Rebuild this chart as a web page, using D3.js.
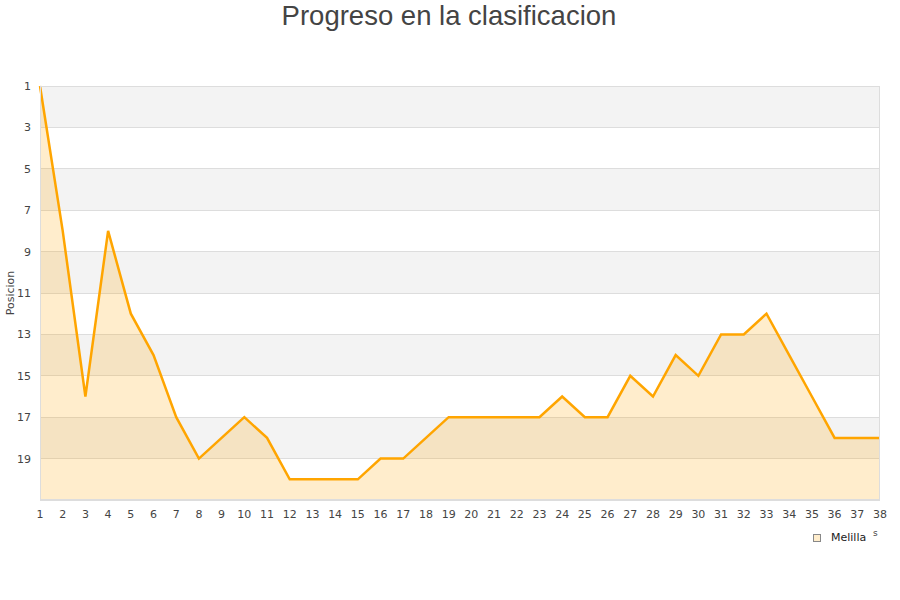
<!DOCTYPE html>
<html><head><meta charset="utf-8">
<script src="https://cdn.jsdelivr.net/npm/d3@7"></script>
<style>body{margin:0;background:#fff}svg{display:block}</style>
</head><body>
<div id="chart"></div>
<script>
const title = "Progreso en la clasificacion";
const yTitle = "Posicion";
const seriesName = "Melilla";
const jornadas = d3.range(1, 39);
const posiciones = [1,8,16,8,12,14,17,19,18,17,18,20,20,20,20,19,19,18,17,17,17,17,17,16,17,17,15,16,14,15,13,13,12,14,16,18,18,18];
const yTicks = [1,3,5,7,9,11,13,15,17,19];

const W = 900, H = 600;
const m = {left:40, right:20, top:86, bottom:100};
const svg = d3.select("#chart").append("svg").attr("width", W).attr("height", H);
const x = d3.scaleLinear().domain([1,38]).range([m.left, W - m.right]);
const y = d3.scaleLinear().domain([1,21]).range([m.top, H - m.bottom]);
const font = "DejaVu Sans, sans-serif";

// bands
const bands = d3.range(1, 21, 2);
svg.append("g").selectAll("rect").data(bands).join("rect")
  .attr("x", m.left).attr("width", W - m.right - m.left)
  .attr("y", d => y(d)).attr("height", d => y(d + 2) - y(d))
  .attr("fill", (d, i) => i % 2 === 0 ? "#f3f3f3" : "#ffffff");
// grid
svg.append("g").selectAll("line").data(yTicks.concat([21])).join("line")
  .attr("x1", m.left).attr("x2", W - m.right)
  .attr("y1", d => y(d)).attr("y2", d => y(d))
  .attr("stroke", "#dddddd").attr("stroke-width", 1).attr("shape-rendering", "crispEdges");

const data = jornadas.map((j, i) => ({j, p: posiciones[i]}));
svg.append("path").datum(data)
  .attr("d", d3.area().x(d => x(d.j)).y0(y(21)).y1(d => y(d.p)))
  .attr("fill", "#ffa500").attr("fill-opacity", 0.2);
svg.append("path").datum(data)
  .attr("d", d3.line().x(d => x(d.j)).y(d => y(d.p)))
  .attr("fill", "none").attr("stroke", "#ffa500").attr("stroke-width", 2.5)
  .attr("stroke-linejoin", "miter");

// border
svg.append("rect").attr("x", m.left + 0.5).attr("y", m.top + 0.5)
  .attr("width", W - m.right - m.left - 1).attr("height", y(21) - m.top - 1)
  .attr("fill", "none").attr("stroke", "#dddddd");

// y axis labels
svg.append("g").selectAll("text").data(yTicks).join("text")
  .attr("x", 31).attr("y", d => y(d) + 4).attr("text-anchor", "end")
  .attr("font-family", font).attr("font-size", 11).attr("fill", "#444")
  .text(d => d);
// x axis labels
svg.append("g").selectAll("text").data(jornadas).join("text")
  .attr("x", d => x(d)).attr("y", 518).attr("text-anchor", "middle")
  .attr("font-family", font).attr("font-size", 11).attr("fill", "#444")
  .text(d => d);

svg.append("text").attr("transform", "translate(14,293) rotate(-90)")
  .attr("text-anchor", "middle").attr("font-family", font).attr("font-size", 11)
  .attr("fill", "#444").text(yTitle);

svg.append("text").attr("x", 449).attr("y", 25).attr("text-anchor", "middle")
  .attr("font-family", "Liberation Sans, Arial, sans-serif").attr("font-size", 27.5)
  .attr("fill", "#444").text(title);

// legend
svg.append("rect").attr("x", 813.5).attr("y", 534.5).attr("width", 7).attr("height", 7)
  .attr("fill", "#ffedcc").attr("stroke", "#888");
svg.append("text").attr("x", 831).attr("y", 541).attr("font-family", font)
  .attr("font-size", 11).attr("fill", "#222").text(seriesName);
svg.append("text").attr("x", 873).attr("y", 536).attr("font-family", font)
  .attr("font-size", 9).attr("fill", "#444").text("s");
</script>
</body></html>
